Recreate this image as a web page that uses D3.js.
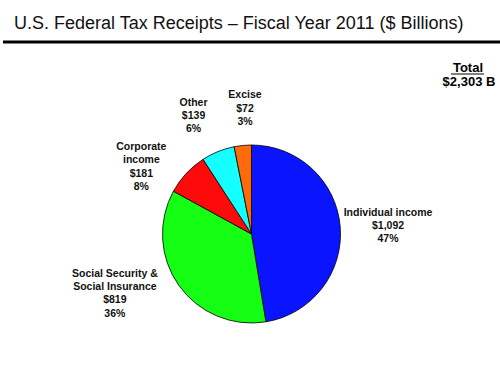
<!DOCTYPE html>
<html>
<head>
<meta charset="utf-8">
<script src="https://cdn.jsdelivr.net/npm/d3@7"></script>
<style>
  body { margin: 0; background: #fff; }
  svg { display: block; font-family: Arial, 'Liberation Sans', sans-serif; }
</style>
</head>
<body>
<div id="chart"></div>
<script>
// data
const categories = ['Individual income', 'Social Security & Social Insurance', 'Corporate income', 'Other', 'Excise']
const labelLines = [['Individual income'], ['Social Security &', 'Social Insurance'], ['Corporate', 'income'], ['Other'], ['Excise']]
const values = [1092, 819, 181, 139, 72]
const colors = ['#0a14ff', '#14ff14', '#ff0a0a', '#14ffff', '#ff6a0a']
// manual label nudges (the original labels were hand placed)
const labelNudge = [[-1, 2], [-24, -21], [-9, 26], [-6, 9], [7, 11]]

const width = 500
const height = 375
const cx = 251.5
const cy = 234
const radius = 89
const labelRadius = 138
const lineH = 13.3

const total = d3.sum(values)
const fmt = d3.format(',')

const svg = d3.select('#chart').append('svg')
  .attr('width', width)
  .attr('height', height)

// title + rule
svg.append('text')
  .attr('x', 14)
  .attr('y', 28.5)
  .attr('font-size', 18)
  .attr('fill', '#111')
  .text('U.S. Federal Tax Receipts \u2013 Fiscal Year 2011 ($ Billions)')

svg.append('rect')
  .attr('x', 3)
  .attr('y', 40.5)
  .attr('width', width - 3)
  .attr('height', 3)
  .attr('fill', '#000')

// total box
const totalG = svg.append('g')
  .attr('font-weight', 'bold')
  .attr('font-size', 13)
  .attr('text-anchor', 'middle')
totalG.append('text')
  .attr('x', 468)
  .attr('y', 72)
  .text('Total')
totalG.append('line')
  .attr('x1', 451).attr('x2', 484)
  .attr('y1', 74).attr('y2', 74)
  .attr('stroke', '#000')
  .attr('stroke-width', 1.2)
totalG.append('text')
  .attr('x', 469)
  .attr('y', 86)
  .text(`$${fmt(total)} B`)

// pie
const pie = d3.pie().sort(null).value(d => d)
const arcs = pie(values)
const arc = d3.arc().innerRadius(0).outerRadius(radius)
const labelArc = d3.arc().innerRadius(labelRadius).outerRadius(labelRadius)

const g = svg.append('g').attr('transform', `translate(${cx},${cy})`)

g.selectAll('path')
  .data(arcs)
  .join('path')
  .attr('d', arc)
  .attr('fill', (d, i) => colors[i])
  .attr('stroke', '#000')
  .attr('stroke-width', 0.8)

// labels
const labels = g.selectAll('g.label')
  .data(arcs)
  .join('g')
  .attr('class', 'label')
  .attr('font-weight', 'bold')
  .attr('font-size', 10.5)
  .attr('text-anchor', 'middle')
  .attr('fill', '#111')
  .each(function (d, i) {
    const [x, y] = labelArc.centroid(d)
    const lines = labelLines[i].concat([`$${fmt(values[i])}`, `${Math.round(values[i] / total * 100)}%`])
    const top = y + labelNudge[i][1] - (lines.length - 1) * lineH / 2
    d3.select(this).selectAll('text')
      .data(lines)
      .join('text')
      .attr('x', x + labelNudge[i][0])
      .attr('y', (l, j) => top + j * lineH + 4)
      .text(l => l)
  })
</script>
</body>
</html>
